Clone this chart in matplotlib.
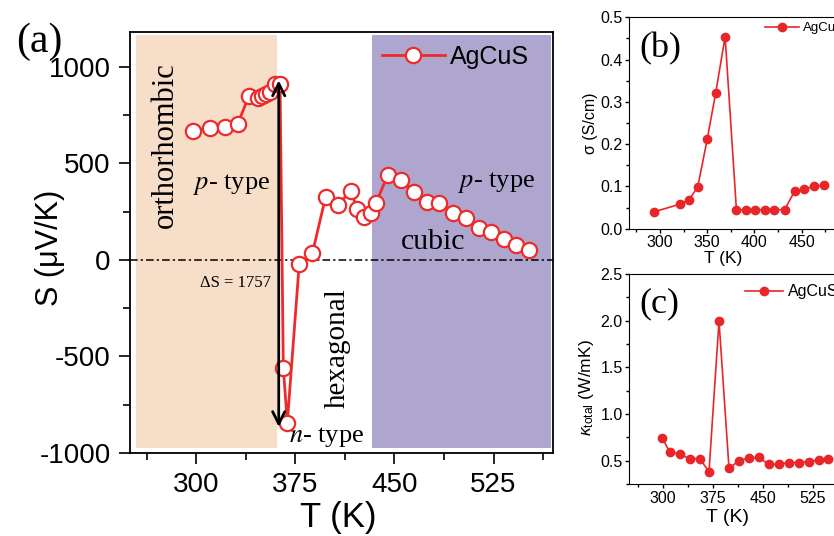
import matplotlib
matplotlib.use("Agg")
import matplotlib.pyplot as plt
from matplotlib.ticker import MultipleLocator

# ---------------- data ----------------
T_a = [297.5, 310.5, 322, 331.5, 340, 347, 350, 353, 356, 359.5, 363.5, 366, 369, 378, 388,
       398, 407, 417, 422, 427, 432, 436, 445, 455, 465, 475, 484, 494, 504, 514, 523, 533,
       542, 552]
S_a = [668, 686, 691, 705, 850, 840, 848, 858, 870, 910, 914, -560, -843, -22, 35,
       328, 285, 358, 263, 225, 242, 294, 440, 413, 354, 302, 297, 245, 216, 164, 145, 110,
       76, 52]

T_b = [294, 321, 331, 340, 350, 359, 369, 381, 391, 401, 411, 421, 432, 443, 453, 463, 474]
sigma_b = [0.040, 0.058, 0.069, 0.099, 0.211, 0.321, 0.454, 0.044, 0.045, 0.045, 0.045,
           0.045, 0.045, 0.090, 0.094, 0.100, 0.103]

T_c = [299, 310.5, 325.5, 340.5, 355.5, 369.5, 384.5, 399.5, 414.5, 429.5, 444, 459, 474,
       489, 504, 519, 534, 548]
kappa_c = [0.745, 0.597, 0.569, 0.522, 0.522, 0.382, 1.995, 0.418, 0.50, 0.53, 0.535, 0.46,
           0.46, 0.48, 0.48, 0.49, 0.51, 0.52]

xticks_a = [300, 375, 450, 525]
yticks_a = [-1000, -500, 0, 500, 1000]
xticks_b = [300, 350, 400, 450]
yticks_b = [0.0, 0.1, 0.2, 0.3, 0.4, 0.5]
xticks_c = [300, 375, 450, 525]
yticks_c = [0.5, 1.0, 1.5, 2.0, 2.5]

ortho_span = (254.5, 361)
cubic_span = (433, 568.6)
delta_S = 1757
label = "AgCuS"

# ---------------- style ----------------
SANS = "Liberation Sans"
SERIF = "Liberation Serif"
plt.rcParams["font.family"] = [SANS, "DejaVu Sans"]
plt.rcParams["axes.unicode_minus"] = False
plt.rcParams["mathtext.fontset"] = "custom"
plt.rcParams["mathtext.rm"] = SANS
plt.rcParams["mathtext.it"] = SANS + ":italic"

RED = "#EE2B2B"
RED2 = "#E8262A"
ORANGE = "#F6DEC8"
PURPLE = "#AFA6CF"

W, H = 834, 536
fig = plt.figure(figsize=(W / 100, H / 100), dpi=100)


def px(l, t, r, b):
    return [l / W, 1 - b / H, (r - l) / W, (b - t) / H]


# ---------------- panel (a) ----------------
ax = fig.add_axes(px(130, 32, 553, 453))
ax.set_xlim(250, 570)
ax.set_ylim(-1000, 1181)

ax.fill_between(ortho_span, -975, 1165, color=ORANGE, lw=0, zorder=0)
ax.fill_between(cubic_span, -975, 1165, color=PURPLE, lw=0, zorder=0)
ax.axhline(0, color="k", lw=1.1, dashes=(5, 2, 1.5, 2), zorder=1)

ax.plot(T_a, S_a, "-o", color=RED, lw=2, mfc="white", mec=RED, mew=1.6, ms=11,
        label=label, zorder=3)

ax.annotate("", xy=(362.5, 930), xytext=(362.5, -865),
            arrowprops=dict(arrowstyle="<->", lw=2, color="k", mutation_scale=22,
                            shrinkA=0, shrinkB=0), zorder=4)

ax.set_xticks(xticks_a)
ax.set_yticks(yticks_a)
ax.xaxis.set_minor_locator(MultipleLocator(37.5))
ax.yaxis.set_minor_locator(MultipleLocator(250))
ax.tick_params(which="both", direction="out", top=False, right=False, width=1.2)
ax.tick_params(which="major", length=8, labelsize=20, pad=6)
ax.tick_params(which="minor", length=5)
for s in ax.spines.values():
    s.set_linewidth(1.3)

ax.text(276.5, 596, "orthorhombic", family=SERIF, fontsize=22, rotation=90,
        ha="center", va="center")
ax.text(326.5, 389, r"$\it{p}$- type", family=SERIF, fontsize=19, ha="center", va="center",
        math_fontfamily="stix")
ax.text(330, -119, "\u0394S = %d" % delta_S, family=SERIF, fontsize=12, ha="center",
        va="center")
ax.text(406.8, -456, "hexagonal", family=SERIF, fontsize=21, rotation=90, ha="center",
        va="center")
ax.text(399, -917, r"$\it{n}$- type", family=SERIF, fontsize=19, ha="center", va="center",
        math_fontfamily="stix")
ax.text(527.7, 399, r"$\it{p}$- type", family=SERIF, fontsize=19, ha="center", va="center",
        math_fontfamily="stix")
ax.text(479, 93, "cubic", family=SERIF, fontsize=21.5, ha="center", va="center")

ax.legend(loc="center left", bbox_to_anchor=(0.596, 0.9406), frameon=False, fontsize=18,
          handlelength=2.5, handletextpad=0.2, borderpad=0, borderaxespad=0)

fig.text(39 / W, 1 - 42 / H, "(a)", family=SERIF, fontsize=30, ha="center", va="center")
fig.text(50 / W, 1 - 248 / H, "S (\u03bcV/K)", fontsize=22, rotation=90, ha="center",
         va="center")
fig.text(338 / W, 1 - 517 / H, "T (K)", fontsize=25, ha="center", va="center")

# ---------------- panel (b) ----------------
bx = fig.add_axes(px(629.3, 17.3, 629.3 + (500 - 267.5) * 0.944, 228.7))
bx.set_xlim(267.5, 500)
bx.set_ylim(0, 0.5)
bx.plot(T_b, sigma_b, "-o", color=RED2, lw=1.2, ms=6, label=label)
bx.set_xticks(xticks_b)
bx.set_yticks(yticks_b)
bx.set_yticklabels(["%.1f" % v for v in yticks_b])
bx.xaxis.set_minor_locator(MultipleLocator(25))
bx.yaxis.set_minor_locator(MultipleLocator(0.05))
bx.tick_params(which="both", direction="out", top=False, right=False, width=1)
bx.tick_params(which="major", length=3.2, labelsize=11.5, pad=1.5)
bx.tick_params(which="minor", length=2)
bx.legend(loc="center left", bbox_to_anchor=((765 - 629.3) / 219.5, (228.7 - 28.3) / 211.4),
          frameon=False, fontsize=9.5, handlelength=2.6, handletextpad=0.3, borderpad=0,
          borderaxespad=0)
fig.text(660 / W, 1 - 49 / H, "(b)", family=SERIF, fontsize=26, ha="center", va="center")
fig.text(591 / W, 1 - 123 / H, "\u03c3 (S/cm)", fontsize=11.5, rotation=90, ha="center",
         va="center")
fig.text(723 / W, 1 - 259 / H, "T (K)", fontsize=12.5, ha="center", va="center")

# ---------------- panel (c) ----------------
cx = fig.add_axes(px(629.3, 274, 629.3 + (600 - 250) * 0.667, 484))
cx.set_xlim(250, 600)
cx.set_ylim(0.25, 2.5)
cx.plot(T_c, kappa_c, "-o", color=RED2, lw=1.2, ms=6, label=label)
cx.set_xticks(xticks_c)
cx.set_yticks(yticks_c)
cx.xaxis.set_minor_locator(MultipleLocator(37.5))
cx.yaxis.set_minor_locator(MultipleLocator(0.25))
cx.tick_params(which="both", direction="out", top=False, right=False, width=1)
cx.tick_params(which="major", length=3.2, labelsize=11.5, pad=1.5)
cx.tick_params(which="minor", length=2)
cx.legend(loc="center left", bbox_to_anchor=((745 - 629.3) / 233.5, (484 - 291.7) / 210),
          frameon=False, fontsize=11.5, handlelength=2.4, handletextpad=0.3, borderpad=0,
          borderaxespad=0)
fig.text(659 / W, 1 - 304 / H, "(c)", family=SERIF, fontsize=26, ha="center", va="center")
fig.text(587 / W, 1 - 388 / H, r"$\kappa_{\rm total}$ (W/mK)", fontsize=12.5, rotation=90,
         ha="center", va="center")
fig.text(727 / W, 1 - 518 / H, "T (K)", fontsize=14, ha="center", va="center")

fig.savefig("out.png", dpi=100)
